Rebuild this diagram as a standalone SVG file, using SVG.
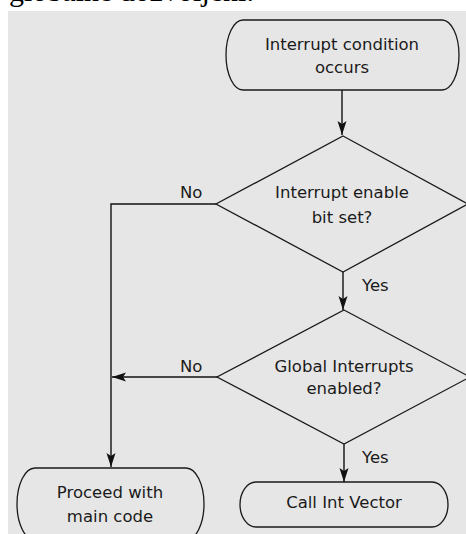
<svg xmlns="http://www.w3.org/2000/svg" width="466" height="534" viewBox="0 0 466 534">
<defs>
<marker id="arr" markerUnits="userSpaceOnUse" markerWidth="15" markerHeight="10" refX="14" refY="5" orient="auto">
<path d="M0,0.5 L14,5 L0,9.5 L3,5 z" fill="#111"/>
</marker>
<style>
.shape{fill:none;stroke:#1a1a1a;stroke-width:1.3}
.conn{fill:none;stroke:#111;stroke-width:1.4}
.t{font-family:"DejaVu Sans",sans-serif;font-size:16.5px;fill:#1a1a1a;text-anchor:middle}
.lbl{font-family:"DejaVu Sans",sans-serif;font-size:16.5px;fill:#1a1a1a}
</style>
</defs>
<rect x="0" y="0" width="466" height="534" fill="#ffffff"/>
<text x="9" y="1" font-family="Liberation Serif, serif" font-size="30" fill="#000">globalne dozvoljeni.</text>
<rect x="8" y="11" width="458" height="523" fill="#e6e6e6"/>
<g id="connectors">
<path class="conn" d="M342,90 V135" marker-end="url(#arr)"/>
<path class="conn" d="M216,204 H111 V467" marker-end="url(#arr)"/>
<path class="conn" d="M343,272 V310" marker-end="url(#arr)"/>
<path class="conn" d="M217,377 H112" marker-end="url(#arr)"/>
<path class="conn" d="M344,444 V482" marker-end="url(#arr)"/>
<text class="lbl" x="180" y="198">No</text>
<text class="lbl" x="362" y="291">Yes</text>
<text class="lbl" x="180" y="372">No</text>
<text class="lbl" x="362" y="463">Yes</text>
</g>
<g id="start">
<rect class="shape" x="226" y="20" width="233" height="70" rx="17" ry="35"/>
<text class="t" x="342" y="50">Interrupt condition</text>
<text class="t" x="342" y="73">occurs</text>
</g>
<g id="decision1">
<polygon class="shape" points="343,136 468,204 343,272 216,204"/>
<text class="t" x="342" y="198">Interrupt enable</text>
<text class="t" x="342" y="223">bit set?</text>
</g>
<g id="decision2">
<polygon class="shape" points="344,310 470,377 344,444 217,377"/>
<text class="t" x="344" y="372">Global Interrupts</text>
<text class="t" x="344" y="394">enabled?</text>
</g>
<g id="proceed">
<rect class="shape" x="17" y="468" width="187" height="72" rx="18" ry="36"/>
<text class="t" x="110" y="498">Proceed with</text>
<text class="t" x="110" y="522">main code</text>
</g>
<g id="callvector">
<rect class="shape" x="240" y="482" width="208" height="45" rx="16" ry="22.5"/>
<text class="t" x="344" y="508">Call Int Vector</text>
</g>
</svg>
